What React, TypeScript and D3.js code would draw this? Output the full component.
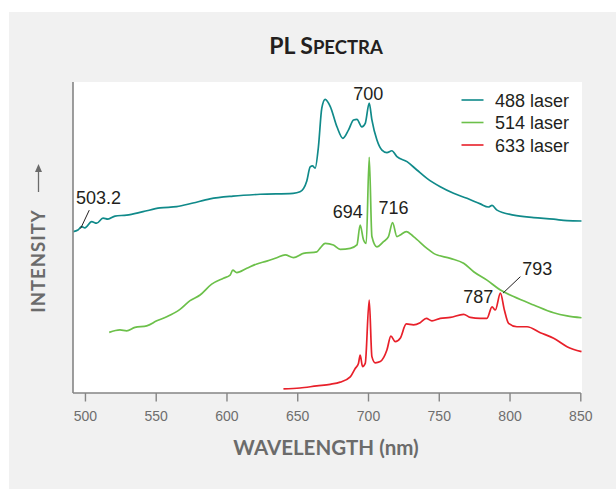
import React from "react";
import * as d3 from "d3";

// ---- data (wavelength nm, intensity a.u.) ----
const seriesNames = ["488 laser", "514 laser", "633 laser"];
const seriesColors = ["#108a8a", "#6cc04a", "#e8202a"];

const wl488 = [491.4, 494.7, 497.3, 499.6, 504.4, 507.9, 512.4, 515.9, 520.9, 529.1, 540.7, 552.7, 564.5, 576.0, 588.0, 604.3, 623.4, 646.7, 651.6, 656.4, 658.8, 660.4, 662.3, 664.6, 667.0, 669.4, 673.0, 677.7, 681.9, 685.9, 689.4, 691.8, 695.3, 697.7, 700.5, 702.4, 705.9, 709.5, 713.0, 716.5, 720.1, 727.2, 734.2, 741.3, 750.7, 760.1, 769.6, 779.0, 784.7, 787.3, 790.8, 802.5, 816.7, 830.8, 840.3, 850.5];
const int488 = [51.9, 52.4, 53.5, 53.1, 55.1, 54.6, 56.2, 55.9, 56.9, 57.2, 58.3, 59.5, 59.9, 61.1, 62.4, 63.3, 63.9, 64.2, 64.7, 68.2, 72.7, 73.0, 72.3, 79.1, 91.6, 94.4, 92.1, 85.6, 81.9, 84.6, 87.8, 88.0, 85.6, 86.7, 93.2, 87.8, 81.4, 78.1, 77.3, 77.9, 76.0, 74.4, 71.7, 69.0, 66.3, 64.2, 62.6, 60.8, 59.8, 60.3, 58.8, 57.2, 56.4, 55.9, 55.4, 55.3];

const wl514 = [516.8, 524.4, 529.1, 535.0, 543.3, 550.4, 557.4, 566.8, 573.9, 581.0, 589.2, 597.5, 602.2, 604.1, 606.9, 614.0, 621.1, 628.1, 635.2, 641.1, 647.0, 654.0, 663.5, 665.8, 669.4, 675.2, 680.0, 687.1, 691.8, 694.1, 696.5, 698.4, 700.5, 702.4, 705.9, 710.4, 714.1, 717.0, 720.1, 722.4, 726.7, 731.8, 741.3, 746.0, 757.8, 767.2, 774.3, 783.7, 793.2, 802.5, 816.7, 830.8, 840.3, 850.5];
const int514 = [19.5, 20.3, 20.0, 21.1, 21.6, 23.2, 24.5, 26.9, 29.7, 31.5, 35.0, 36.9, 37.9, 39.5, 38.7, 40.1, 41.5, 42.4, 43.5, 44.4, 43.5, 44.9, 45.4, 46.6, 48.1, 47.6, 46.2, 46.5, 47.6, 54.0, 49.2, 48.1, 75.8, 50.3, 47.0, 48.6, 50.3, 54.8, 50.3, 50.8, 51.9, 50.3, 46.5, 44.9, 43.3, 41.7, 39.0, 36.3, 33.1, 31.0, 28.3, 25.8, 24.8, 24.2];

const wl633 = [639.9, 651.6, 663.5, 672.9, 680.0, 687.1, 690.6, 692.9, 694.1, 695.8, 697.7, 700.5, 702.4, 704.8, 708.3, 713.0, 715.8, 718.9, 722.4, 726.7, 731.8, 736.5, 740.8, 744.8, 750.7, 757.8, 767.2, 771.9, 779.0, 783.7, 787.3, 789.6, 793.2, 796.0, 799.0, 804.9, 812.0, 821.4, 830.8, 840.3, 850.5];
const int633 = [1.3, 1.6, 2.3, 2.8, 3.5, 5.2, 7.9, 9.5, 12.2, 8.5, 9.5, 29.9, 11.7, 9.7, 10.1, 13.8, 18.3, 16.5, 17.6, 22.2, 21.9, 22.6, 24.0, 23.2, 24.0, 24.3, 25.3, 24.3, 24.0, 24.0, 27.7, 26.7, 32.1, 26.7, 22.4, 21.3, 21.3, 19.4, 17.6, 14.9, 13.3];

const xTicks = [500, 550, 600, 650, 700, 750, 800, 850];

// peak annotations: label, wavelength, intensity of label anchor
const peakLabels = ["700", "694", "716", "503.2", "793", "787"];
const peakLabelWl = [699.8, 685.4, 717.7, 493.3, 819.3, 777.6];
const peakLabelInt = [94.2, 56.3, 57.6, 60.8, 37.9, 29.0];
const peakLabelAnchor = ["middle", "middle", "middle", "start", "middle", "middle"];
// leader lines: [wl1, int1, wl2, int2]
const leaderLines = [
  [502.7, 58.8, 496.6, 52.9],
  [807.3, 37.4, 795.0, 32.1],
];

const W = 616;
const H = 489;
const plot = { left: 73, right: 581.5, top: 82, bottom: 393 };

export default function App() {
  const x = d3.scaleLinear().domain([491.2, 850.5]).range([plot.left, plot.right]);
  const y = d3.scaleLinear().domain([0, 100]).range([plot.bottom, plot.top]);
  const line = d3
    .line<[number, number]>()
    .x((d) => x(d[0]))
    .y((d) => y(d[1]))
    .curve(d3.curveMonotoneX);

  const series = [
    d3.zip(wl488, int488) as [number, number][],
    d3.zip(wl514, int514) as [number, number][],
    d3.zip(wl633, int633) as [number, number][],
  ];

  const axisColor = "#858585";
  const labelGray = "#6b6b6b";
  const sans = "'Liberation Sans', Arial, Helvetica, sans-serif";
  const humanist = "Lato, 'Open Sans', sans-serif";

  const yLabelX = 38.5;

  return (
    <svg
      width={W}
      height={H}
      style={{ position: "absolute", left: 0, top: 0, display: "block" }}
    >
      <rect x={0} y={0} width={W} height={H} fill="#ffffff" />
      <rect x={9} y={12} width={W - 9} height={H - 12} fill="#f1f1f1" />
      <rect
        x={plot.left}
        y={plot.top}
        width={plot.right - plot.left + 0.5}
        height={plot.bottom - plot.top}
        fill="#ffffff"
      />

      {/* title */}
      <text
        x={326}
        y={54}
        textAnchor="middle"
        fontFamily={humanist}
        fontWeight={700}
        fill="#231f20"
      >
        <tspan fontSize={23}>PL S</tspan>
        <tspan fontSize={18.5}>PECTRA</tspan>
      </text>

      {/* series */}
      {series.map((s, i) => (
        <path
          key={seriesNames[i]}
          d={line(s) || ""}
          fill="none"
          stroke={seriesColors[i]}
          strokeWidth={1.7}
          strokeLinejoin="round"
        />
      ))}

      {/* axes */}
      <line
        x1={plot.left}
        x2={plot.left}
        y1={plot.top}
        y2={plot.bottom}
        stroke={axisColor}
        strokeWidth={1.6}
      />
      <line
        x1={plot.left}
        x2={x(850)}
        y1={plot.bottom}
        y2={plot.bottom}
        stroke={axisColor}
        strokeWidth={1.6}
      />
      {xTicks.map((t) => (
        <g key={t}>
          <line
            x1={x(t)}
            x2={x(t)}
            y1={plot.bottom}
            y2={plot.bottom + 8.5}
            stroke={axisColor}
            strokeWidth={1.4}
          />
          <text
            x={x(t)}
            y={421}
            textAnchor="middle"
            fontFamily={sans}
            fontSize={14}
            fill="#6e6e6e"
          >
            {t}
          </text>
        </g>
      ))}

      {/* x label */}
      <text
        x={326}
        y={455}
        textAnchor="middle"
        fontFamily={humanist}
        fontWeight={700}
        fontSize={20.5}
        fill={labelGray}
      >
        WAVELENGTH (nm)
      </text>

      {/* y label */}
      <text
        transform={`translate(${yLabelX + 6.5},${261}) rotate(-90)`}
        textAnchor="middle"
        fontFamily={humanist}
        fontWeight={700}
        fontSize={18.5}
        letterSpacing={1}
        fill={labelGray}
      >
        INTENSITY
      </text>
      <line
        x1={yLabelX}
        x2={yLabelX}
        y1={192}
        y2={170}
        stroke={labelGray}
        strokeWidth={1.3}
      />
      <path
        d={`M${yLabelX - 3.5},${172} L${yLabelX},${164} L${yLabelX + 3.5},${172} Z`}
        fill={labelGray}
      />

      {/* peak labels */}
      {peakLabels.map((l, i) => (
        <text
          key={l}
          x={x(peakLabelWl[i])}
          y={y(peakLabelInt[i])}
          textAnchor={peakLabelAnchor[i] as any}
          fontFamily={sans}
          fontSize={18}
          fill="#231f20"
        >
          {l}
        </text>
      ))}
      {leaderLines.map((ln, i) => (
        <line
          key={i}
          x1={x(ln[0])}
          y1={y(ln[1])}
          x2={x(ln[2])}
          y2={y(ln[3])}
          stroke="#231f20"
          strokeWidth={1}
        />
      ))}

      {/* legend */}
      {seriesNames.map((n, i) => (
        <g key={n} transform={`translate(0,${100 + i * 22.5})`}>
          <line x1={461.5} x2={483.5} y1={0} y2={0} stroke={seriesColors[i]} strokeWidth={1.6} />
          <text x={495} y={6.5} fontFamily={sans} fontSize={18} fill="#231f20">
            {n}
          </text>
        </g>
      ))}
    </svg>
  );
}
